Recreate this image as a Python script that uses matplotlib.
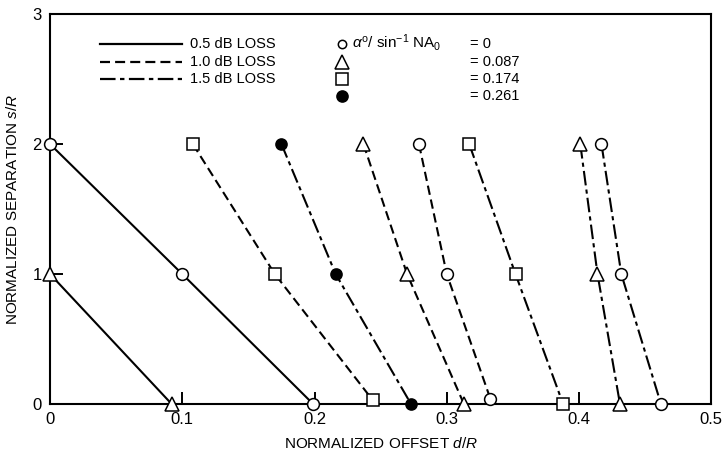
import matplotlib
matplotlib.use("Agg")
import matplotlib.pyplot as plt
from matplotlib.lines import Line2D

plt.rcParams['font.family'] = ['Liberation Sans', 'DejaVu Sans']
plt.rcParams['mathtext.fontset'] = 'custom'
plt.rcParams['mathtext.rm'] = 'Liberation Sans'
plt.rcParams['mathtext.it'] = 'Liberation Sans:italic'

# normalized separation s/R at the three measured points
sep_full = [2, 1, 0]

# offsets d/R, one curve per (loss, alpha) pair
d_05_a087 = [0.0, 0.092]
s_05_a087 = [1, 0]
d_05_a0 = [0.0, 0.100, 0.199]
d_10_a174 = [0.108, 0.170, 0.244]
s_10_a174 = [2, 1, 0.03]
d_15_a261 = [0.175, 0.216, 0.273]
d_10_a087 = [0.237, 0.270, 0.313]
d_10_a0 = [0.279, 0.300, 0.333]
s_10_a0 = [2, 1, 0.04]
d_15_a174 = [0.317, 0.352, 0.388]
d_15_a087 = [0.401, 0.414, 0.431]
d_15_a0 = [0.417, 0.432, 0.462]

loss_labels = ['0.5 dB LOSS', '1.0 dB LOSS', '1.5 dB LOSS']
alpha_labels = ['= 0', '= 0.087', '= 0.174', '= 0.261']

# line styles per loss level
styles = {
    0.5: '-',
    1.0: (0, (4.5, 2.3)),
    1.5: (0, (7, 2, 2, 2)),
}
# marker per alpha value: (marker, size, face)
markers = {
    0: ('o', 8.5, 'white'),
    0.087: ('^', 9.5, 'white'),
    0.174: ('s', 8, 'white'),
    0.261: ('o', 8, 'black'),
}

curves = [
    (d_05_a087, s_05_a087, 0.5, 0.087),
    (d_05_a0, sep_full, 0.5, 0),
    (d_10_a174, s_10_a174, 1.0, 0.174),
    (d_15_a261, sep_full, 1.5, 0.261),
    (d_10_a087, sep_full, 1.0, 0.087),
    (d_10_a0, s_10_a0, 1.0, 0),
    (d_15_a174, sep_full, 1.5, 0.174),
    (d_15_a087, sep_full, 1.5, 0.087),
    (d_15_a0, sep_full, 1.5, 0),
]

fig = plt.figure(figsize=(7.25, 4.55), dpi=100)
ax = fig.add_axes([0.069, 0.112, 0.912, 0.857])

for d, s, loss, alpha in curves:
    mk, ms, fc = markers[alpha]
    ax.plot(d, s, color='black', linestyle=styles[loss], linewidth=1.5, zorder=2)
    ax.plot(d, s, linestyle='none', marker=mk, markersize=ms,
            markerfacecolor=fc, markeredgecolor='black', markeredgewidth=1.1,
            clip_on=False, zorder=3)

ax.set_xlim(0, 0.5)
ax.set_ylim(0, 3)
ax.set_xticks([0, 0.1, 0.2, 0.3, 0.4, 0.5])
ax.set_xticklabels(['0', '0.1', '0.2', '0.3', '0.4', '0.5'])
ax.set_yticks([0, 1, 2, 3])
ax.tick_params(direction='in', length=9, width=1.4, labelsize=12, pad=6)
for sp in ax.spines.values():
    sp.set_linewidth(1.5)

ax.set_xlabel('NORMALIZED OFFSET $\\it{d/R}$', fontsize=11, labelpad=6)
ax.set_ylabel('NORMALIZED SEPARATION $\\it{s/R}$', fontsize=11, labelpad=9)

# hand-placed legend block (axes fraction)
tr = ax.transAxes
row_y = [0.923, 0.878, 0.833, 0.789]
for y, lab, loss in zip(row_y, loss_labels, [0.5, 1.0, 1.5]):
    ax.add_line(Line2D([0.076, 0.199], [y, y], transform=tr, color='black',
                       linestyle=styles[loss], linewidth=1.6))
    ax.text(0.212, y, lab, transform=tr, fontsize=10.5, va='center', ha='left')

for y, lab, alpha in zip(row_y, alpha_labels, [0, 0.087, 0.174, 0.261]):
    mk, ms, fc = markers[alpha]
    if alpha == 0:
        ms = 6
    ax.add_line(Line2D([0.441], [y], transform=tr, marker=mk, markersize=ms,
                       markerfacecolor=fc, markeredgecolor='black',
                       markeredgewidth=1.1, linestyle='none'))
    ax.text(0.635, y, lab, transform=tr, fontsize=10.5, va='center', ha='left')

ax.text(0.456, row_y[0] + 0.004, r'$\alpha^{\rm o}$/ sin$^{-1}$ NA$_{\rm 0}$',
        transform=tr, fontsize=11, va='center', ha='left')

fig.savefig('out.png', dpi=100)
